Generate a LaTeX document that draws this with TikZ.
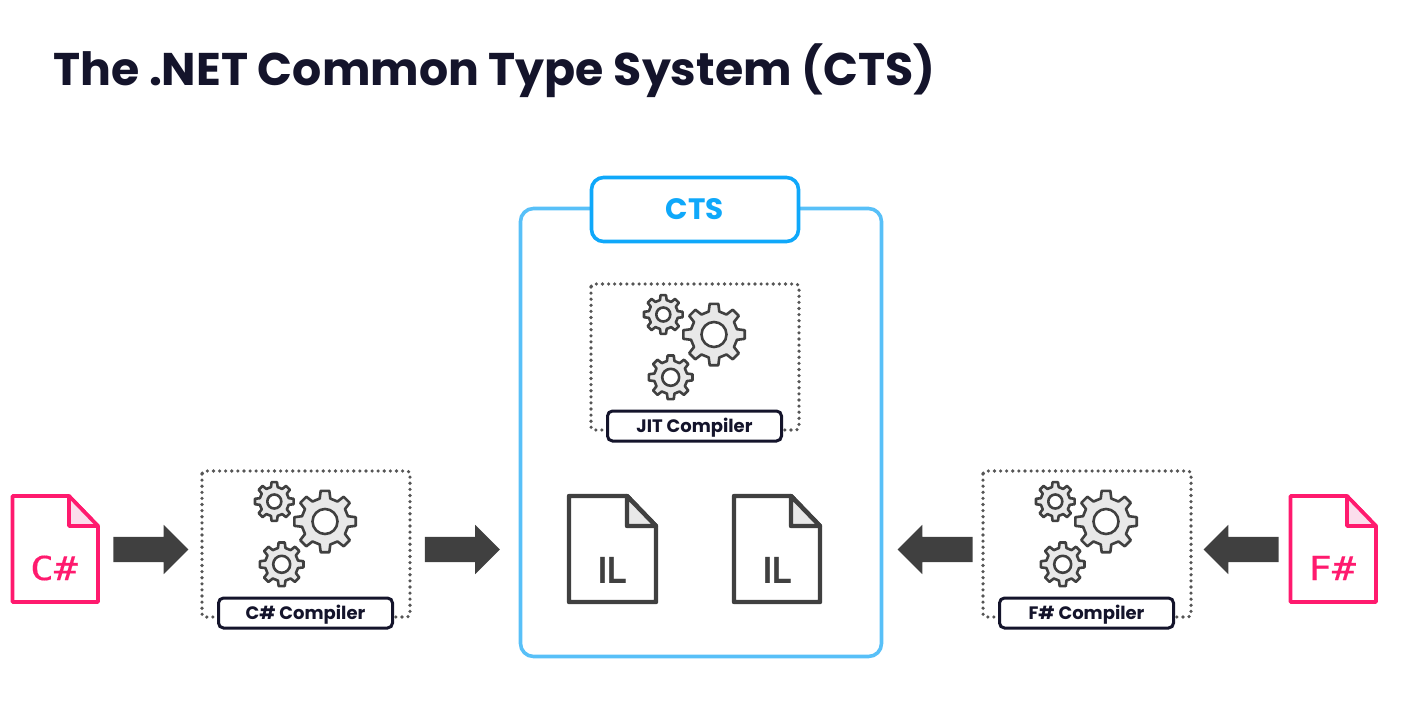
\documentclass[tikz,border=0pt]{standalone}
\usepackage{fontspec}
\setmainfont{Poppins}
\newfontfamily\filefont[FakeStretch=1.2,FakeBold=0.4]{DejaVu Sans Mono}
\newfontfamily\ilfont[FakeStretch=0.85]{Liberation Sans}
\usetikzlibrary{arrows.meta,positioning,shapes.arrows,calc}
\definecolor{titleink}{RGB}{20,20,43}
\definecolor{ctsblue}{RGB}{15,168,250}
\definecolor{ctslight}{RGB}{88,192,248}
\definecolor{filepink}{RGB}{255,26,110}
\definecolor{foldpink}{RGB}{251,222,236}
\definecolor{darkgray}{RGB}{64,64,64}
\definecolor{geargray}{RGB}{232,232,232}
\definecolor{dotgray}{RGB}{85,85,85}
\newcommand{\gearshape}[4]{% x, y, outer radius, hole radius
  \draw[gearline] (#1,#2) ++(-13:#3*0.76)
    \foreach \a in {0,45,...,315} {
      -- ($(#1,#2)+(\a-13:#3*0.76)$) -- ($(#1,#2)+(\a-8:#3)$)
      -- ($(#1,#2)+(\a+8:#3)$) -- ($(#1,#2)+(\a+13:#3*0.76)$)
    } -- cycle;
  \draw[gearline,fill=white] (#1,#2) circle (#4);
}
\newcommand{\filesheet}[4]{% left, right, line colour, fold colour
  \draw[#3,line join=round] (#1,496) -- (#2-29,496) -- (#2,526) -- (#2,602) -- (#1,602) -- cycle;
  \draw[#3,fill=#4,line join=round] (#2-29,496) -- (#2,526) -- (#2-29,526) -- cycle;
}
\begin{document}
\begin{tikzpicture}[x=1pt,y=-1pt,
    gearline/.style={draw=darkgray,fill=geargray,line width=2.6pt,line join=round},
    dotbox/.style={draw=dotgray,line width=3.6pt,line cap=round,dash pattern=on 0pt off 6.1pt,rounded corners=3pt},
    tagbox/.style={rectangle,rounded corners=5pt,draw=titleink,fill=white,line width=3pt,
      minimum width=174pt,minimum height=30pt,inner sep=0pt,font=\fontsize{18}{20}\selectfont\bfseries,text=titleink},
    blockarrow/.style={single arrow,draw=none,fill=darkgray,minimum height=75pt,
      single arrow head extend=12pt,single arrow tip angle=90,inner sep=0pt},
    pinkline/.style={draw=filepink,line width=3.6pt},
    illine/.style={draw=darkgray,line width=4.4pt}]
  \useasboundingbox (0,0) rectangle (1403,702);
  \node[anchor=west,inner sep=0pt,font=\fontsize{45.8}{50}\selectfont\bfseries,text=titleink] (title) at (53,71) {The .NET Common Type System (CTS)};

  % outer box
  \node[rectangle,draw=ctslight,line width=3.6pt,rounded corners=13pt,minimum width=361pt,minimum height=448pt,inner sep=0pt] (ctsbox) at (701,432.5) {};
  \node[rectangle,draw=ctsblue,fill=white,line width=3.6pt,rounded corners=12pt,minimum width=207pt,minimum height=64pt,inner sep=0pt,
    font=\fontsize{29.5}{30}\selectfont\bfseries,text=ctsblue] (ctstag) at (695,209.5) {CTS};

  % compilers
  \foreach \dx/\dy/\nm/\lbl in {0/0/ccomp/C\# Compiler,389/-187/jit/JIT Compiler,781/0/fcomp/F\# Compiler} {
    \draw[dotbox] (202+\dx,471+\dy) rectangle (410+\dx,617+\dy);
    \gearshape{325+\dx}{521.5+\dy}{31}{12.5}
    \gearshape{274.3+\dx}{501.5+\dy}{19.5}{7}
    \gearshape{281.7+\dx}{564.3+\dy}{22}{8.5}
    \node[tagbox,text depth=2pt] (\nm) at (305.5+\dx,613+\dy) {\lbl};
  }

  % files
  \filesheet{12.5}{98}{pinkline}{foldpink}
  \filesheet{1290.5}{1376}{pinkline}{foldpink}
  \filesheet{569}{656}{illine}{geargray}
  \filesheet{734}{820}{illine}{geargray}
  \node[font=\fontsize{33}{36}\filefont,text=filepink,inner sep=0pt] (csfile) at (54,568) {C\#};
  \node[font=\fontsize{33}{36}\filefont,text=filepink,inner sep=0pt] (fsfile) at (1332,568) {F\#};
  \node[font=\fontsize{38}{40}\ilfont\bfseries,text=darkgray,inner sep=0pt] (ilone) at (613,570) {IL};
  \node[font=\fontsize{38}{40}\ilfont\bfseries,text=darkgray,inner sep=0pt] (iltwo) at (778,570) {IL};

  % arrows
  \node[blockarrow] (arrowa) at (144.5,549.5) {\rule{0pt}{25pt}};
  \node[blockarrow] (arrowb) at (456,549.5) {\rule{0pt}{25pt}};
  \node[blockarrow,shape border rotate=180] (arrowc) at (941.5,549.5) {\rule{0pt}{25pt}};
  \node[blockarrow,shape border rotate=180] (arrowd) at (1247.5,549.5) {\rule{0pt}{25pt}};
\end{tikzpicture}
\end{document}
